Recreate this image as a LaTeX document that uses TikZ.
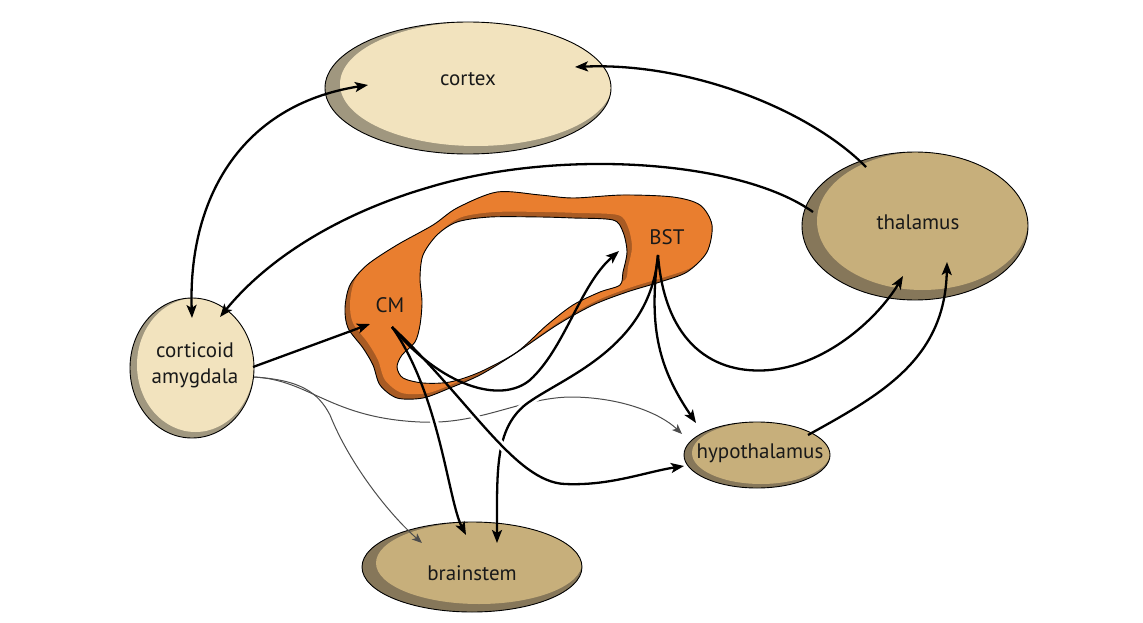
\documentclass[tikz,border=0pt]{standalone}
\usepackage{fontspec}
\setmainfont{PT Sans}
\usetikzlibrary{arrows.meta,calc,shapes.geometric}
\definecolor{creamlt}{HTML}{F2E3BE}
\definecolor{creamdk}{HTML}{A0977F}
\definecolor{tanlt}{HTML}{C7AF7B}
\definecolor{tandk}{HTML}{86775A}
\definecolor{orangelt}{HTML}{E97E2F}
\definecolor{orangedk}{HTML}{A85B24}
\tikzset{
  blob/.style n args={6}{ellipse, draw=black, line width=0.9pt, inner sep=0pt, fill=#1,
    path picture={\fill[#2] ($(path picture bounding box.center)+(#3pt,#4pt)$) ellipse [x radius=#5pt, y radius=#6pt];}},
  lbl/.style={font=\fontsize{21}{26}\selectfont, text=black!90, align=center, inner sep=0pt},
  tip/.tip={Stealth[length=13pt,width=10pt,inset=3pt]},
  thintip/.tip={Stealth[length=10pt,width=8pt,inset=2.5pt]},
  conn/.style={line width=2.3pt, -tip},
  thinconn/.style={line width=1pt, draw=black!70, -thintip},
  halo/.style={line width=8pt, white},
}
\begin{document}
\begin{tikzpicture}[x=1pt,y=-1pt]
\useasboundingbox (0,0) rectangle (1143,623);

% endpoints
\coordinate (cmS) at (392,327);
\coordinate (bstS) at (658,255);
\coordinate (ca1) at (368,85);
\coordinate (ca2) at (192,318);
\coordinate (th1) at (866,167);
\coordinate (cx2) at (575,67);
\coordinate (th2) at (813,212);
\coordinate (am2) at (220,317);
\coordinate (am3) at (253,367);
\coordinate (cm2) at (370,324);
\coordinate (am4) at (254,377);
\coordinate (hy1) at (682,434);
\coordinate (bs1) at (422,543);
\coordinate (bs2) at (466,535);
\coordinate (hy2) at (684,466);
\coordinate (bst2) at (619,251);
\coordinate (th3) at (903,276);
\coordinate (hy3) at (696,423);
\coordinate (bs3) at (497,543);
\coordinate (hy4) at (808,435);
\coordinate (th4) at (947,262);

% thin connector amygdala -> hypothalamus (passes under thick lines)
\draw[thinconn] (am4) .. controls (310,380) and (330,418) .. (420,422) .. controls (480,425) and (520,398) .. (570,397) .. controls (620,397) and (660,413) .. (hy1);

% halos
\draw[halo] (cmS) .. controls (440,395) and (448,500) .. (bs2);
\draw[halo] (cmS) .. controls (470,400) and (515,482) .. (565,484) .. controls (610,486) and (645,472) .. (hy2);
\draw[halo] (bstS) .. controls (650,350) and (560,378) .. (525,405) .. controls (495,430) and (497,470) .. (bs3);

% orange ring
\def\outerring{plot[smooth cycle] coordinates {(497,192) (540,195) (573,198) (623,195) (673,197) (700,205) (712,225) (707,252) (687,272) (660,282) (627,292) (593,305) (557,325) (513,355) (480,375) (450,388) (423,398) (397,398) (380,385) (373,365) (363,348) (348,328) (345,308) (350,285) (367,265) (397,245) (433,225) (457,208)}}
\def\innerring{plot[smooth cycle] coordinates {(423,255) (437,235) (457,222) (490,217) (540,217) (573,218) (613,220) (623,232) (627,252) (623,272) (620,285) (600,292) (573,305) (547,325) (517,352) (480,372) (450,382) (423,383) (403,378) (397,367) (402,355) (415,342) (420,325) (422,302) (420,278)}}
\fill[orangedk, even odd rule] \outerring \innerring;
\begin{scope}[even odd rule]
  \clip \outerring \innerring;
  \fill[orangelt, shift={(5,-5)}] \outerring \innerring;
\end{scope}
\draw[line width=0.9pt] \outerring;
\draw[line width=0.9pt] \innerring;
\node[lbl] (cm) at (390,305) {CM};
\node[lbl] (bst) at (667,237) {BST};

% ellipses
\node[blob={creamdk}{creamlt}{8}{4}{136}{62}, minimum width=286pt, minimum height=132pt] (cortex) at (468,88) {};
\node[lbl] (cortext) at (468,79) {cortex};
\node[blob={tandk}{tanlt}{7.5}{5}{105.5}{69}, minimum width=226pt, minimum height=148pt] (thal) at (915,226) {};
\node[lbl] (thaltext) at (918,222) {thalamus};
\node[blob={creamdk}{creamlt}{3.5}{3}{58.5}{67}, minimum width=124pt, minimum height=140pt] (amyg) at (192,368) {};
\node[lbl] (amygtext) at (195,365) {corticoid\\amygdala};
\node[blob={tandk}{tanlt}{4}{2}{69}{31}, minimum width=146pt, minimum height=66pt] (hyp) at (757,455) {};
\node[lbl] (hyptext) at (760,453) {hypothalamus};
\node[blob={tandk}{tanlt}{7}{4}{103}{41}, minimum width=220pt, minimum height=90pt] (brain) at (472,567) {};
\node[lbl] (braintext) at (472,573) {brainstem};

% thin connector amygdala -> brainstem
\draw[thinconn] (am4) .. controls (300,380) and (318,392) .. (330,415) .. controls (350,465) and (390,515) .. (bs1);

% BST to brainstem (under CM to hypothalamus)
\draw[conn] (bstS) .. controls (650,350) and (560,378) .. (525,405) .. controls (495,430) and (497,470) .. (bs3);
\begin{scope}
  \clip (488,424) rectangle (518,456);
  \draw[halo] (cmS) .. controls (470,400) and (515,482) .. (565,484);
\end{scope}

% thick connectors
\draw[conn, tip-tip] (ca2) .. controls (188,200) and (240,105) .. (ca1);
\draw[conn] (th1) .. controls (810,110) and (690,62) .. (cx2);
\draw[conn] (th2) .. controls (740,160) and (560,148) .. (430,187) .. controls (340,213) and (268,258) .. (am2);
\draw[conn] (am3) -- (cm2);
\draw[conn] (cmS) .. controls (440,395) and (448,500) .. (bs2);
\draw[conn] (cmS) .. controls (470,400) and (515,482) .. (565,484) .. controls (610,486) and (645,472) .. (hy2);
\draw[conn] (cmS) .. controls (440,385) and (500,405) .. (530,380) .. controls (565,348) and (580,285) .. (bst2);
\draw[conn] (bstS) .. controls (665,345) and (715,375) .. (770,370) .. controls (830,364) and (880,315) .. (th3);
\draw[conn] (bstS) .. controls (648,330) and (660,370) .. (hy3);
\draw[conn] (hy4) .. controls (880,395) and (945,360) .. (th4);
\end{tikzpicture}
\end{document}
